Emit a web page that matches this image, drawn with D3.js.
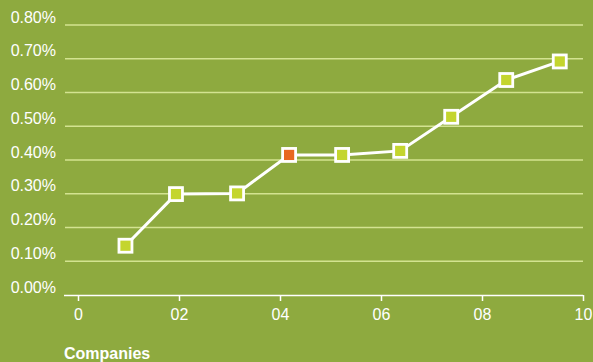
<!DOCTYPE html>
<html><head><meta charset="utf-8">
<script src="https://cdn.jsdelivr.net/npm/d3@7"></script>
<style>
html,body{margin:0;padding:0;background:#8eaa3f;}
svg{display:block;font-family:"Liberation Sans",Arial,Helvetica,sans-serif;}
</style></head>
<body><svg id="c" width="593" height="362"></svg>
<script>
const xValues = [0.94, 1.94, 3.15, 4.18, 5.23, 6.38, 7.39, 8.48, 9.54];
const yValues = [0.146, 0.299, 0.301, 0.415, 0.415, 0.427, 0.528, 0.637, 0.692];
const highlight = [false, false, false, true, false, false, false, false, false];
const yTicks = [0, 0.1, 0.2, 0.3, 0.4, 0.5, 0.6, 0.7, 0.8];
const xTicks = [0, 2, 4, 6, 8, 10];
const xTickLabels = ["0", "02", "04", "06", "08", "10"];
const xTitle = "Companies";

const svg = d3.select("#c");
const W = 593, H = 362;
svg.append("rect").attr("width", W).attr("height", H).attr("fill", "#8eaa3f");

const x = d3.scaleLinear().domain([0, 10]).range([78, 583]);
const y = d3.scaleLinear().domain([0, 0.8]).range([295, 25]);

// gridlines
svg.append("g").selectAll("line").data(yTicks.filter(d => d > 0)).join("line")
  .attr("x1", 65).attr("x2", 583)
  .attr("y1", d => y(d)).attr("y2", d => y(d))
  .attr("stroke", "#d3e391").attr("stroke-width", 1.5);

// y labels
svg.append("g").selectAll("text").data(yTicks).join("text")
  .attr("x", 56).attr("y", d => y(d) - 2.5)
  .attr("text-anchor", "end").attr("fill", "#ffffff")
  .attr("font-size", 16)
  .text(d => d3.format(".2f")(d) + "%");

// x axis
const xAxis = d3.axisBottom(x).tickValues(xTicks)
  .tickFormat((d, i) => xTickLabels[i]).tickSizeOuter(0).tickSize(6).tickPadding(8);
const gx = svg.append("g").attr("transform", "translate(0,295)").call(xAxis);
gx.select(".domain").attr("d", "M64,0.5H583").attr("stroke", "#ffffff").attr("stroke-width", 1.5);
gx.selectAll(".tick line").attr("stroke", "#ffffff").attr("stroke-width", 1.5);
gx.selectAll(".tick text").attr("fill", "#ffffff").attr("font-size", 16)
  .attr("font-family", "Liberation Sans, Arial, sans-serif");

svg.append("text").attr("x", 64).attr("y", 359).attr("fill", "#ffffff")
  .attr("font-size", 16).attr("font-weight", "bold").text(xTitle);

// line
const pts = xValues.map((v, i) => ({x: v, y: yValues[i], h: highlight[i]}));
svg.append("path").datum(pts)
  .attr("d", d3.line().x(d => x(d.x)).y(d => y(d.y)))
  .attr("fill", "none").attr("stroke", "#ffffff").attr("stroke-width", 3);

const s = 13;
svg.append("g").selectAll("rect").data(pts).join("rect")
  .attr("x", d => x(d.x) - s / 2).attr("y", d => y(d.y) - s / 2)
  .attr("width", s).attr("height", s)
  .attr("fill", d => d.h ? "#e8671f" : "#c4d52e")
  .attr("stroke", "#ffffff").attr("stroke-width", 2.8);
</script></body></html>
